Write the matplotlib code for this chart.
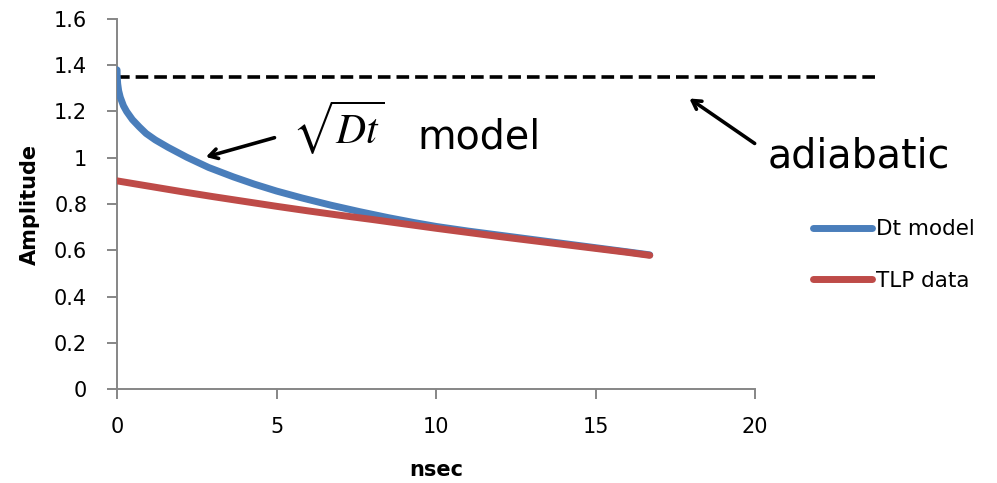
import matplotlib
matplotlib.use("Agg")
import matplotlib.pyplot as plt

# amplitude vs time, sqrt(Dt) thermal model against TLP measurement
t_model = [0.0, 0.005, 0.02, 0.05, 0.1, 0.2, 0.3, 0.48, 0.7, 0.91, 1.2, 1.6, 2.19, 2.87,
           3.65, 4.3, 5.0, 5.8, 6.7, 7.6, 8.5, 9.3, 10.0, 11.0, 12.0, 13.0, 14.0, 15.0,
           16.0, 16.7]
a_model = [1.38, 1.35, 1.32, 1.29, 1.262, 1.225, 1.2, 1.165, 1.133, 1.105, 1.077, 1.045,
           1.002, 0.958, 0.917, 0.886, 0.856, 0.826, 0.795, 0.767, 0.741, 0.72, 0.703, 0.683,
           0.665, 0.647, 0.629, 0.611, 0.593, 0.58]

t_tlp = [0.0, 1.0, 2.0, 3.0, 4.0, 5.0, 6.0, 7.0, 8.0, 9.0, 10.0, 11.0, 12.0, 13.0, 14.0,
         15.0, 16.0, 16.7]
a_tlp = [0.90, 0.877, 0.854, 0.832, 0.811, 0.79, 0.77, 0.751, 0.733, 0.714, 0.695, 0.677,
         0.659, 0.642, 0.625, 0.608, 0.591, 0.578]

adiabatic_level = 1.35
adiabatic_span = [0.0, 23.76]

x_ticks = [0, 5, 10, 15, 20]
y_ticks = [0, 0.2, 0.4, 0.6, 0.8, 1, 1.2, 1.4, 1.6]
y_tick_labels = ["0", "0.2", "0.4", "0.6", "0.8", "1", "1.2", "1.4", "1.6"]

blue = "#4A7EBB"
red = "#BE4B48"
axis_grey = "#868686"

plt.rcParams["font.family"] = ["DejaVu Sans"]
plt.rcParams["mathtext.fontset"] = "stix"

fig = plt.figure(figsize=(9.97, 4.83), dpi=100)
ax = fig.add_axes([0.1174, 0.1946, 0.6399, 0.7661])

ax.plot(t_model, a_model, color=blue, lw=5, solid_capstyle="round", label="Dt model", zorder=3)
ax.plot(t_tlp, a_tlp, color=red, lw=5, solid_capstyle="round", label="TLP data", zorder=4)
ax.plot(adiabatic_span, [adiabatic_level] * 2, color="black", lw=2.6,
        dashes=(3.5, 1.66), clip_on=False, zorder=2)

ax.set_xlim(0, 20)
ax.set_ylim(0, 1.6)
ax.set_xticks(x_ticks)
ax.set_yticks(y_ticks)
ax.set_yticklabels(y_tick_labels)

for side in ("top", "right"):
    ax.spines[side].set_visible(False)
for side in ("left", "bottom"):
    ax.spines[side].set_color(axis_grey)
    ax.spines[side].set_linewidth(1.4)
ax.tick_params(axis="both", direction="out", length=7.5, width=1.4, color=axis_grey,
               labelsize=15, labelcolor="black")
ax.tick_params(axis="y", pad=14)
ax.tick_params(axis="x", pad=13)

ax.set_xlabel("nsec", fontsize=15, fontweight="bold", labelpad=16)
ax.set_ylabel("Amplitude", fontsize=15, fontweight="bold", labelpad=10)

# annotations
head = "->,head_length=0.6,head_width=0.35"
ax.annotate("", xy=(2.7, 1.0), xytext=(5.02, 1.09),
            arrowprops=dict(arrowstyle=head, lw=2.6, color="black"),
            annotation_clip=False)
ax.text(5.5, 1.058, r"$\sqrt{Dt}$", fontsize=30, ha="left", va="baseline")
ax.text(9.4, 1.038, "model", fontsize=28.5, ha="left", va="baseline")

ax.annotate("", xy=(17.87, 1.263), xytext=(20.06, 1.055),
            arrowprops=dict(arrowstyle=head, lw=2.6, color="black"),
            annotation_clip=False)
ax.text(20.4, 0.956, "adiabatic", fontsize=28.5, ha="left", va="baseline", clip_on=False)

fig.legend(loc="center left", bbox_to_anchor=(0.8154, 0.472), frameon=False, fontsize=15.5,
           handlelength=2.74, handletextpad=0.19, labelspacing=1.45,
           borderpad=0, borderaxespad=0)

fig.savefig("out.png", dpi=100)
